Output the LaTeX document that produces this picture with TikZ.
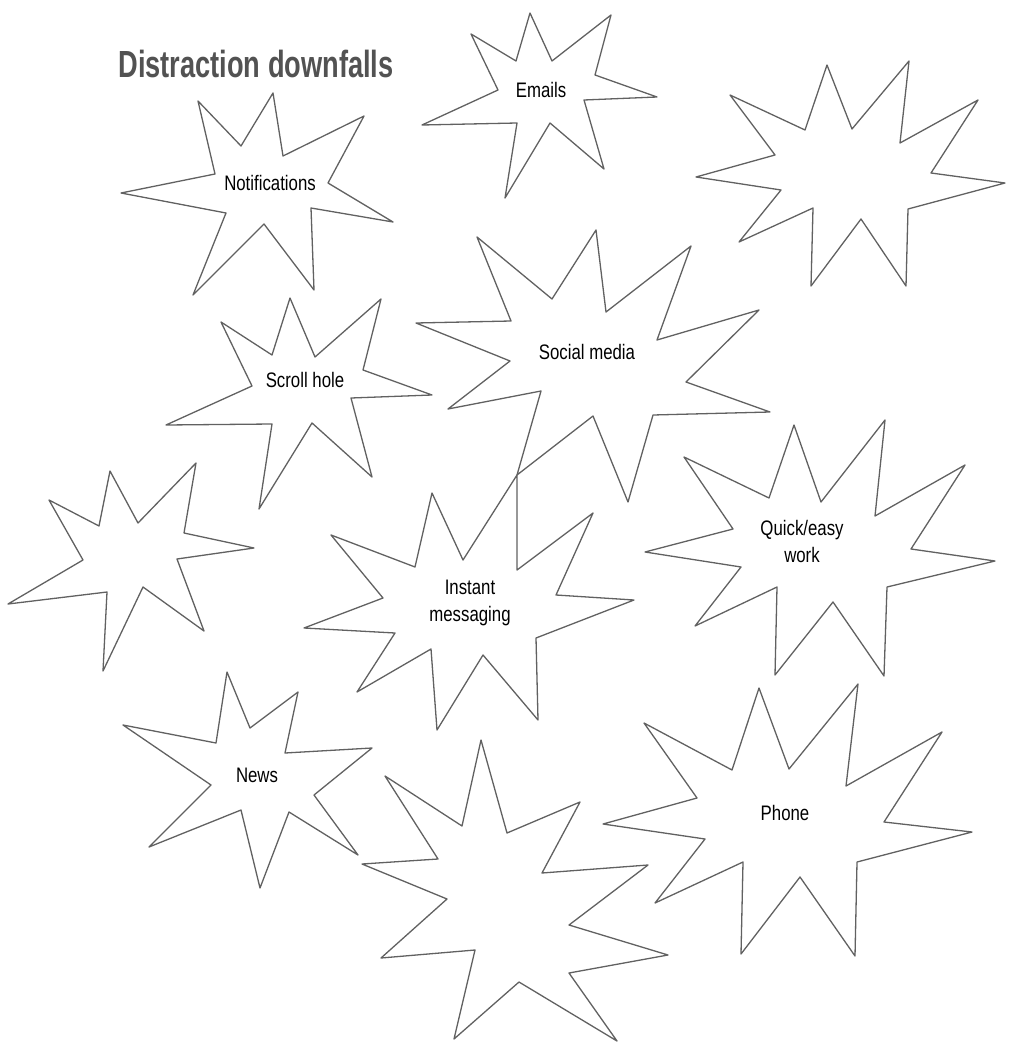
\documentclass[tikz,border=0pt]{standalone}
\usepackage{fontspec}
\usepackage{tikz}
\newfontfamily\titlefont[FakeStretch=0.72]{Liberation Sans}
\newfontfamily\burstfont[FakeStretch=0.8]{Liberation Sans}

\begin{document}
\begin{tikzpicture}[x=0.5pt, y=-0.5pt,
        burst/.style={draw=black!62, line width=0.65pt, line join=round},
        burstlabel/.style={font=\burstfont\fontsize{10.5}{13.5}\selectfont, align=center, inner sep=1pt}]
        \useasboundingbox (0,0) rectangle (1014,1048);

        % title
        \node[font=\titlefont\bfseries\fontsize{18.9}{22}\selectfont, text=black!68] (title) at (256,64) {Distraction downfalls};

        % notifications
        \draw[burst] (273,93) -- (283,156) -- (364,116) -- (328,183) -- (393,222) -- (311,208) -- (314,290) -- (264,224)
            -- (193,295) -- (226,213) -- (121,193) -- (215,174) -- (198,101) -- (241,146) -- cycle;
        \node[burstlabel] (notif) at (270,183) {Notifications};

        % emails
        \draw[burst] (530,13) -- (552,61) -- (611,15) -- (595,75) -- (657,97) -- (584,100) -- (604,169) -- (550,123)
            -- (505,198) -- (517,123) -- (422,125) -- (498,90) -- (471,34) -- (516,61) -- cycle;
        \node[burstlabel] (emails) at (541,90) {Emails};

        % empty one, top right
        \draw[burst] (827,65) -- (852,129) -- (909,61) -- (900,143) -- (978,100) -- (931,173) -- (1005,183) -- (908,209)
            -- (906,286) -- (861,219) -- (811,286) -- (813,208) -- (739,242) -- (781,190) -- (696,177) -- (775,155)
            -- (730,95) -- (805,130) -- cycle;

        % scroll hole
        \draw[burst] (290,298) -- (315,357) -- (381,299) -- (363,370) -- (432,395) -- (351,398) -- (372,477) -- (312,423)
            -- (259,509) -- (272,424) -- (166,425) -- (252,386) -- (221,322) -- (272,355) -- cycle;
        \node[burstlabel] (scroll) at (305,380) {Scroll hole};

        % social media
        \draw[burst] (477,237) -- (552,299) -- (596,230) -- (606,312) -- (691,246) -- (657,340) -- (759,310) -- (686,382)
            -- (770,412) -- (653,415) -- (628,502) -- (593,416) -- (517,475) -- (541,391) -- (448,409) -- (510,361)
            -- (416,323) -- (511,321) -- cycle;
        \node[burstlabel] (social) at (587,352) {Social media};

        % empty one, left
        \draw[burst] (110,471) -- (138,523) -- (196,463) -- (184,533) -- (254,548) -- (177,559) -- (204,631) -- (143,587)
            -- (103,671) -- (107,592) -- (8,604) -- (83,560) -- (49,500) -- (99,526) -- cycle;

        % instant messaging
        \draw[burst] (432,493) -- (463,560) -- (517,475) -- (517,570) -- (593,513) -- (556,595) -- (634,600) -- (536,638)
            -- (538,720) -- (483,655) -- (437,730) -- (431,649) -- (357,692) -- (395,633) -- (304,628) -- (383,598)
            -- (331,535) -- (415,567) -- cycle;
        \node[burstlabel] (instant) at (470,603) {Instant\\messaging};

        % quick/easy work
        \draw[burst] (794,425) -- (821,502) -- (885,420) -- (875,516) -- (965,465) -- (911,549) -- (995,561) -- (887,587)
            -- (884,676) -- (833,602) -- (775,675) -- (777,587) -- (695,626) -- (741,567) -- (645,552) -- (733,529)
            -- (684,457) -- (769,498) -- cycle;
        \node[burstlabel] (quick) at (802,541) {Quick/easy\\work};

        % news
        \draw[burst] (227,672) -- (250,728) -- (298,692) -- (285,753) -- (372,748) -- (314,795) -- (358,855) -- (289,812)
            -- (260,888) -- (241,810) -- (149,847) -- (211,785) -- (123,725) -- (216,743) -- cycle;
        \node[burstlabel] (news) at (257,775) {News};

        % empty one, bottom
        \draw[burst] (481,740) -- (507,833) -- (580,802) -- (542,873) -- (648,865) -- (569,925) -- (668,955) -- (569,973)
            -- (617,1041) -- (519,982) -- (454,1039) -- (475,950) -- (381,958) -- (447,899) -- (362,864) -- (438,859)
            -- (385,776) -- (462,826) -- cycle;

        % phone
        \draw[burst] (759,688) -- (789,769) -- (858,684) -- (846,786) -- (942,732) -- (884,822) -- (972,832) -- (857,862)
            -- (855,956) -- (800,877) -- (741,954) -- (743,862) -- (655,903) -- (705,839) -- (603,824) -- (697,798)
            -- (644,723) -- (732,770) -- cycle;
        \node[burstlabel] (phone) at (785,813) {Phone};
    \end{tikzpicture}
\end{document}
